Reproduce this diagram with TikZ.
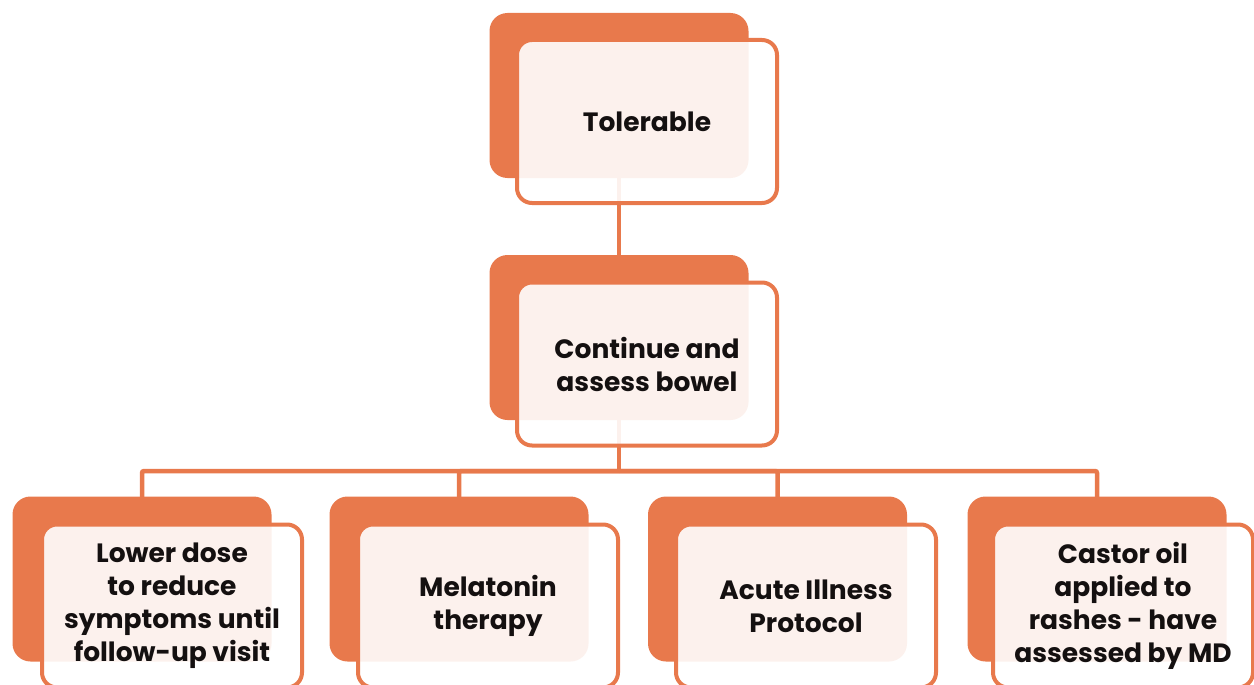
\documentclass[tikz,border=0pt]{standalone}
\usepackage{fontspec}
\setmainfont{Poppins}
\usetikzlibrary{backgrounds}
\definecolor{accent}{RGB}{232,121,76}
\definecolor{ink}{RGB}{20,16,16}
\begin{document}
\begin{tikzpicture}[x=1pt,y=-1pt,
  backbox/.style={rectangle, rounded corners=18pt, fill=accent, draw=none,
    minimum width=259pt, minimum height=165pt, inner sep=0pt},
  frontbox/.style={rectangle, rounded corners=15pt, draw=accent, line width=4pt,
    fill=white, fill opacity=0.9, text opacity=1, text=ink,
    minimum width=260pt, minimum height=163pt, inner sep=0pt, align=center,
    font=\fontsize{26.5}{33}\selectfont\bfseries},
  conn/.style={draw=accent, line width=4.5pt, rounded corners=2pt}]
\useasboundingbox (0,0) rectangle (1254,685);

% orange back plates
\node[backbox] (tb) at (619,95.5) {};
\node[backbox] (mb) at (619,337.5) {};
\node[backbox] (b1b) at (142,579) {};
\node[backbox] (b2b) at (459,579) {};
\node[backbox] (b3b) at (777.5,579) {};
\node[backbox] (b4b) at (1097,579) {};
\coordinate (jn) at (619,471);

% connectors run behind the plates
\begin{pgfonlayer}{background}
  \draw[conn] (tb.center) -- (mb.center);
  \draw[conn] (mb.center) -- (jn);
  \draw[conn] (b1b.center) |- (jn) -| (b4b.center);
  \draw[conn] (b2b.center) |- (jn);
  \draw[conn] (b3b.center) |- (jn);
\end{pgfonlayer}

% translucent front cards with the text
\node[frontbox] (tf) at (647,121.5) {Tolerable};
\node[frontbox] (mf) at (647,364) {Continue and\\assess bowel};
\node[frontbox] (b1f) at (172,606) {Lower dose\\to reduce\\symptoms until\\follow-up visit};
\node[frontbox] (b2f) at (488,606) {Melatonin\\therapy};
\node[frontbox] (b3f) at (806,606) {Acute Illness\\Protocol};
\node[frontbox] (b4f) at (1123,606) {Castor oil\\applied to\\rashes - have\\assessed by MD};
\end{tikzpicture}
\end{document}
